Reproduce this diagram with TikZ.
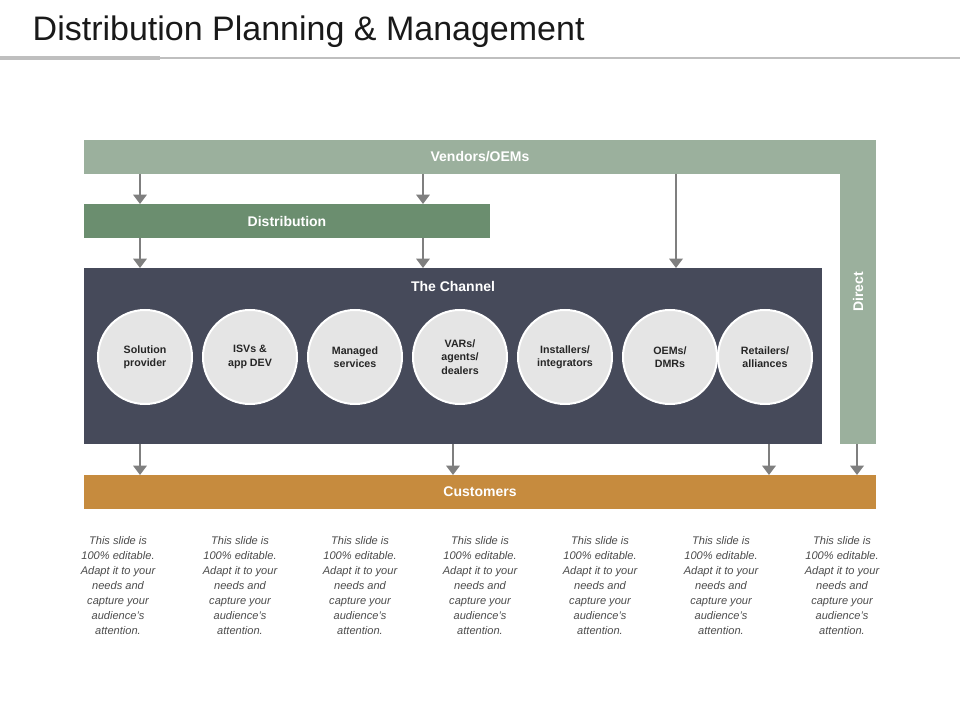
\documentclass[tikz,border=0pt]{standalone}
\usepackage{fontspec}
\setmainfont{Liberation Sans}
\usetikzlibrary{arrows.meta}
\definecolor{vend}{HTML}{9BB09D}
\definecolor{dist}{HTML}{6B8E6F}
\definecolor{chan}{HTML}{464A5A}
\definecolor{cust}{HTML}{C68B3E}
\definecolor{arr}{HTML}{7F7F7F}
\begin{document}
\begin{tikzpicture}[x=0.75pt,y=-0.75pt,
  bar/.style={inner sep=0,text=white,font=\fontsize{10.5pt}{12pt}\bfseries},
  circ/.style={circle,draw=white,line width=1.5pt,fill=black!10,minimum size=70.5pt,align=center,font=\fontsize{8pt}{10pt}\bfseries,text=black!85},
  note/.style={align=center,font=\fontsize{8.3pt}{11.2pt}\itshape,text=black!70,anchor=north},
  arrw/.style={draw=arr,line width=2.2pt,-{Triangle[length=7pt,width=10pt]}}]
\useasboundingbox (0,0) rectangle (960,720);
\fill[white] (0,0) rectangle (960,720);
\node[anchor=west,font=\fontsize{25.5pt}{30pt}\selectfont,text=black!90] (title) at (28,32) {Distribution Planning \& Management};
\draw[black!25,line width=1.2pt] (0,58) -- (960,58);
\draw[black!25,line width=3pt] (0,58) -- (160,58);
% bars
\fill[vend] (84,140) rectangle (876,174);
\fill[vend] (840,140) rectangle (876,444);
\node[bar] (vendors) at (480,157) {Vendors/OEMs};
\node[bar,rotate=90] (direct) at (858,292) {Direct};
\fill[dist] (84,204) rectangle (490,238);
\node[bar] (dist) at (287,221) {Distribution};
\fill[chan] (84,268) rectangle (822,444);
\node[bar] (chan) at (453,286) {The Channel};
\fill[cust] (84,475) rectangle (876,509);
\node[bar] (cust) at (480,492) {Customers};
% circles
\node[circ] (c1) at (145,357) {Solution\\provider};
\node[circ] (c2) at (250,357) {ISVs \&\\app DEV};
\node[circ] (c3) at (355,357) {Managed\\services};
\node[circ] (c4) at (460,357) {VARs/\\agents/\\dealers};
\node[circ] (c5) at (565,357) {Installers/\\integrators};
\node[circ] (c6) at (670,357) {OEMs/\\DMRs};
\node[circ] (c7) at (765,357) {Retailers/\\alliances};
% arrows
\coordinate (a1s) at (140,174); \coordinate (a1e) at (140,204);
\coordinate (a2s) at (423,174); \coordinate (a2e) at (423,204);
\coordinate (a3s) at (140,238); \coordinate (a3e) at (140,268);
\coordinate (a4s) at (423,238); \coordinate (a4e) at (423,268);
\coordinate (a5s) at (676,174); \coordinate (a5e) at (676,268);
\coordinate (b1s) at (140,444); \coordinate (b1e) at (140,475);
\coordinate (b2s) at (453,444); \coordinate (b2e) at (453,475);
\coordinate (b3s) at (769,444); \coordinate (b3e) at (769,475);
\coordinate (b4s) at (857,444); \coordinate (b4e) at (857,475);
\foreach \s/\e in {a1s/a1e,a2s/a2e,a3s/a3e,a4s/a4e,a5s/a5e,b1s/b1e,b2s/b2e,b3s/b3e,b4s/b4e}
  \draw[arrw] (\s) -- (\e);
% notes
\foreach \x [count=\i] in {118,240,360,480,600,721,842}
  \node[note] (n\i) at (\x,532) {This slide is\\100\% editable.\\Adapt it to your\\needs and\\capture your\\audience's\\attention.};
\end{tikzpicture}
\end{document}
